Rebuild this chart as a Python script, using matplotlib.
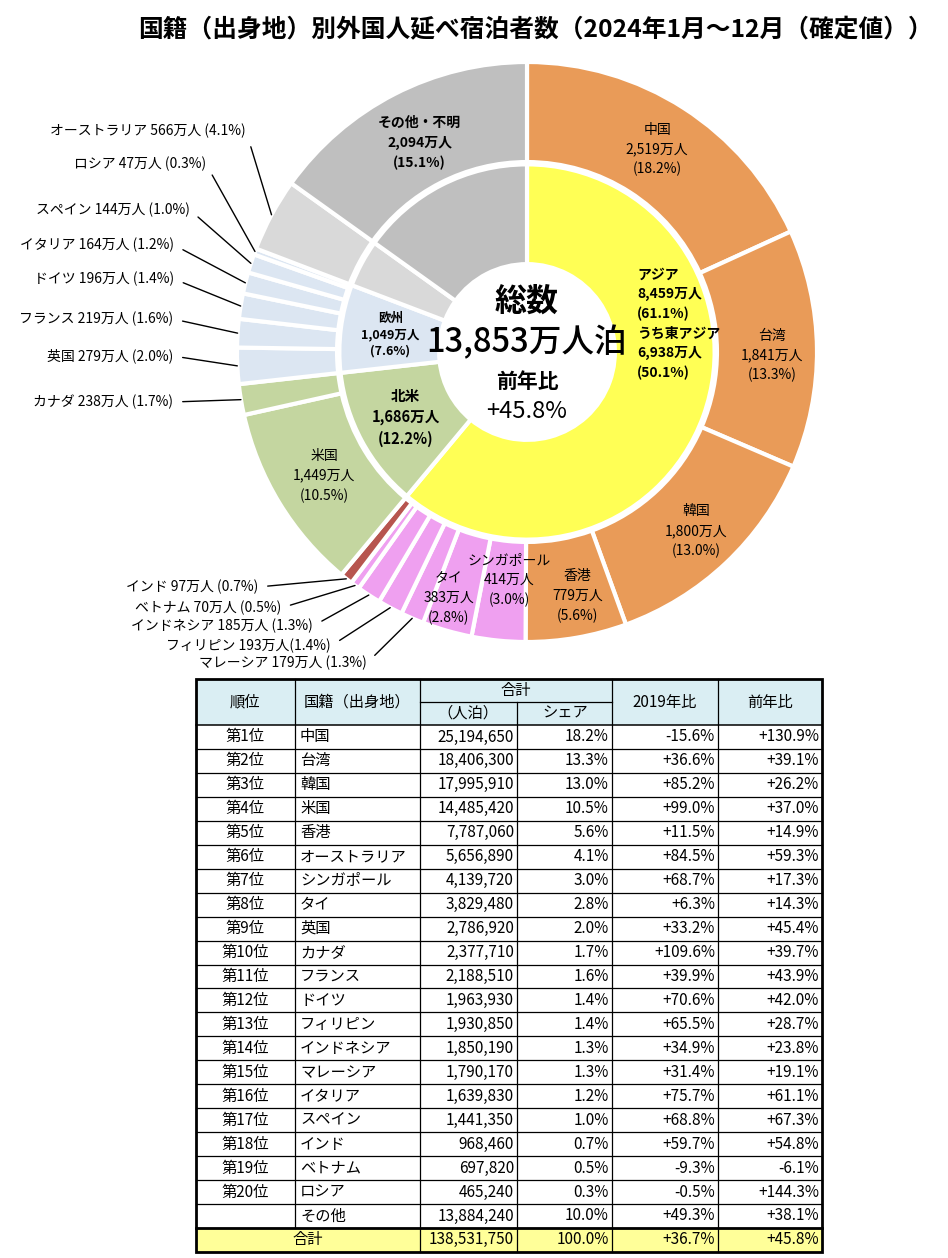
import matplotlib
matplotlib.use("Agg")
import matplotlib.pyplot as plt
import numpy as np

plt.rcParams['font.family'] = ['Noto Sans CJK JP', 'DejaVu Sans']

# outer ring: countries, clockwise from 12 o'clock (万人)
countries = ["中国", "台湾", "韓国", "香港", "シンガポール", "タイ", "マレーシア", "フィリピン",
             "インドネシア", "ベトナム", "インド", "米国", "カナダ", "英国", "フランス", "ドイツ",
             "イタリア", "スペイン", "ロシア", "オーストラリア", "その他・不明"]
country_vals = [2519, 1841, 1800, 779, 414, 383, 179, 193, 185, 70, 97, 1449, 238, 279, 219,
                196, 164, 144, 47, 566, 2094]
country_pct = [18.2, 13.3, 13.0, 5.6, 3.0, 2.8, 1.3, 1.4, 1.3, 0.5, 0.7, 10.5, 1.7, 2.0, 1.6,
               1.4, 1.2, 1.0, 0.3, 4.1, 15.1]
country_grp = ["east", "east", "east", "east", "sea", "sea", "sea", "sea", "sea", "sea", "india",
               "na", "na", "eu", "eu", "eu", "eu", "eu", "eu", "oce", "other"]

# inner ring: regions
regions = ["アジア", "北米", "欧州", "オセアニア", "その他・不明"]
region_vals = [8459, 1686, 1049, 566, 2094]
region_pct = [61.1, 12.2, 7.6, 4.1, 15.1]
region_grp = ["asia", "na", "eu", "oce", "other"]
east_asia_val = 6938
east_asia_pct = 50.1
total_val = 13853
total_yoy = "+45.8%"

# table
tbl_rank = ["第%d位" % i for i in range(1, 21)] + [""]
tbl_names = ["中国", "台湾", "韓国", "米国", "香港", "オーストラリア", "シンガポール", "タイ", "英国",
             "カナダ", "フランス", "ドイツ", "フィリピン", "インドネシア", "マレーシア", "イタリア",
             "スペイン", "インド", "ベトナム", "ロシア", "その他"]
tbl_nights = [25194650, 18406300, 17995910, 14485420, 7787060, 5656890, 4139720, 3829480,
              2786920, 2377710, 2188510, 1963930, 1930850, 1850190, 1790170, 1639830, 1441350,
              968460, 697820, 465240, 13884240]
tbl_share = [18.2, 13.3, 13.0, 10.5, 5.6, 4.1, 3.0, 2.8, 2.0, 1.7, 1.6, 1.4, 1.4, 1.3, 1.3, 1.2,
             1.0, 0.7, 0.5, 0.3, 10.0]
tbl_vs2019 = [-15.6, 36.6, 85.2, 99.0, 11.5, 84.5, 68.7, 6.3, 33.2, 109.6, 39.9, 70.6, 65.5,
              34.9, 31.4, 75.7, 68.8, 59.7, -9.3, -0.5, 49.3]
tbl_yoy = [130.9, 39.1, 26.2, 37.0, 14.9, 59.3, 17.3, 14.3, 45.4, 39.7, 43.9, 42.0, 28.7, 23.8,
           19.1, 61.1, 67.3, 54.8, -6.1, 144.3, 38.1]
total_nights = 138531750
total_share = 100.0
total_vs2019 = 36.7
total_yoy_tbl = 45.8

colors = {"east": "#E99B58", "sea": "#EFA0F0", "india": "#B7554F", "na": "#C4D6A0",
          "eu": "#DCE6F2", "oce": "#D9D9D9", "other": "#BFBFBF", "asia": "#FFFF55"}

W, H = 948, 1258
CX, CY, R = 527, 352, 290


def to_d(x, y):
    return (x - CX) / R, (CY - y) / R


fig = plt.figure(figsize=(W / 100, H / 100), dpi=100)

ax = fig.add_axes([0, 0, 1, 1])
ax.patch.set_visible(False)

wedges, _ = ax.pie(country_vals, radius=1.0, colors=[colors[g] for g in country_grp],
                   counterclock=False, startangle=90,
                   wedgeprops=dict(width=0.345, edgecolor="white", linewidth=3))
iwedges, _ = ax.pie(region_vals, radius=0.647, colors=[colors[g] for g in region_grp],
                    counterclock=False, startangle=90,
                    wedgeprops=dict(width=0.344, edgecolor="white", linewidth=3))
ax.set_aspect("auto")
ax.set_xlim(-CX / R, (W - CX) / R)
ax.set_ylim(-(H - CY) / R, CY / R)
ax.axis("off")


def mid(w, r, da=0.0):
    a = np.deg2rad((w.theta1 + w.theta2) / 2 + da)
    return r * np.cos(a), r * np.sin(a)


# labels inside outer ring: radius factor, angle nudge (deg), bold
inside = {"中国": (0.83, 0, False), "台湾": (0.845, -1.5, False), "韓国": (0.85, 0, False),
          "香港": (0.86, 1.8, False), "シンガポール": (0.79, 1.3, False), "タイ": (0.89, -1.6, False),
          "米国": (0.82, 0, False), "その他・不明": (0.81, 0, True)}
# labels outside with leader lines: right end / centre of text, in pixels
outside = {"オーストラリア": (246, 131), "ロシア": (206, 164), "スペイン": (190, 210),
           "イタリア": (174, 245), "ドイツ": (174, 279), "フランス": (173, 319), "英国": (173, 356),
           "カナダ": (173, 402), "インド": (258, 587), "ベトナム": (281, 608),
           "インドネシア": (313, 626), "フィリピン": (331, 646), "マレーシア": (367, 663)}

for w, name, v, p in zip(wedges, countries, country_vals, country_pct):
    if name in inside:
        r, da, bold = inside[name]
        x, y = mid(w, r, da)
        ax.text(x, y, f"{name}\n{v:,}万人\n({p}%)", ha="center", va="center", fontsize=10,
                fontweight="bold" if bold else "normal", linespacing=1.5)
    elif name in outside:
        sep = "" if name == "フィリピン" else " "
        ax.annotate(f"{name} {v}万人{sep}({p}%)", xy=mid(w, 1.0), xytext=to_d(*outside[name]),
                    ha="right", va="center", fontsize=10,
                    arrowprops=dict(arrowstyle="-", color="black", lw=1.0, shrinkA=5, shrinkB=0,
                                    relpos=(1, 0.5)))

# inner ring labels
for w, name, v, p in zip(iwedges, regions, region_vals, region_pct):
    if name in ("北米", "欧州"):
        x, y = mid(w, 0.475)
        ax.text(x, y, f"{name}\n{v:,}万人\n({p}%)", ha="center", va="center",
                fontsize=10.5 if name == "北米" else 9, fontweight="bold",
                linespacing=1.4 if name == "北米" else 1.35)
    elif name == "アジア":
        x, y = to_d(637, 324)
        ax.text(x, y, f"{name}\n{v:,}万人\n({p}%)\nうち東アジア\n{east_asia_val:,}万人\n({east_asia_pct}%)",
                ha="left", va="center", fontsize=10, fontweight="bold", linespacing=1.48)

# centre
ax.text(*to_d(CX, 302), "総数", ha="center", va="center", fontsize=23, fontweight="bold")
ax.text(*to_d(CX, 343), f"{total_val:,}万人泊", ha="center", va="center", fontsize=23.5,
        fontweight="medium")
ax.text(*to_d(CX, 381), "前年比", ha="center", va="center", fontsize=15, fontweight="bold")
ax.text(*to_d(CX, 411), total_yoy, ha="center", va="center", fontsize=17)

fig.text(535 / W, 1 - 30 / H, "国籍（出身地）別外国人延べ宿泊者数（2024年1月～12月（確定値））",
         ha="center", va="center", fontsize=17.8, fontweight="bold")

# ---- table ----
tb = fig.add_axes([0, 0, 1, 1])
tb.patch.set_visible(False)
tb.set_xlim(0, W)
tb.set_ylim(H, 0)
tb.axis("off")

cx = [196, 295, 420, 517, 612, 718, 822]
top, hmid, hbot = 679, 702, 725
rh = 23.95
nrows = len(tbl_names) + 1
bot = hbot + nrows * rh
tot_top = hbot + (nrows - 1) * rh

tb.add_patch(plt.Rectangle((cx[0], top), cx[-1] - cx[0], hbot - top, color="#DAEEF3", lw=0))
tb.add_patch(plt.Rectangle((cx[0], tot_top), cx[-1] - cx[0], rh, color="#FFFF99", lw=0))

thin = 0.9
for i in range(nrows):
    yy = hbot + i * rh
    tb.plot([cx[0], cx[-1]], [yy, yy], color="black", lw=thin if i > 0 else 1.1)
tb.plot([cx[0], cx[-1]], [tot_top, tot_top], color="black", lw=2)
tb.plot([cx[2], cx[4]], [hmid, hmid], color="black", lw=thin)
tb.plot([cx[1], cx[1]], [top, tot_top], color="black", lw=thin)
for c in (cx[2], cx[4], cx[5]):
    tb.plot([c, c], [top, bot], color="black", lw=thin)
tb.plot([cx[3], cx[3]], [hmid, bot], color="black", lw=thin)
tb.add_patch(plt.Rectangle((cx[0], top), cx[-1] - cx[0], bot - top, fill=False,
                           ec="black", lw=2))

fs = 11
tb.text(245, hmid, "順位", ha="center", va="center", fontsize=fs)
tb.text(357, hmid, "国籍（出身地）", ha="center", va="center", fontsize=fs)
tb.text(516, (top + hmid) / 2, "合計", ha="center", va="center", fontsize=fs)
tb.text(468, (hmid + hbot) / 2, "（人泊）", ha="center", va="center", fontsize=fs)
tb.text(565, (hmid + hbot) / 2, "シェア", ha="center", va="center", fontsize=fs)
tb.text(665, hmid, "2019年比", ha="center", va="center", fontsize=fs)
tb.text(770, hmid, "前年比", ha="center", va="center", fontsize=fs)

for i, (rk, nm, n, s, a, b) in enumerate(zip(tbl_rank, tbl_names, tbl_nights, tbl_share,
                                             tbl_vs2019, tbl_yoy)):
    yy = hbot + (i + 0.5) * rh
    tb.text(245, yy, rk, ha="center", va="center", fontsize=fs)
    tb.text(300, yy, nm, ha="left", va="center", fontsize=fs)
    tb.text(cx[3] - 3, yy, f"{n:,}", ha="right", va="center", fontsize=fs)
    tb.text(cx[4] - 3, yy, f"{s:.1f}%", ha="right", va="center", fontsize=fs)
    tb.text(cx[5] - 3, yy, f"{a:+.1f}%", ha="right", va="center", fontsize=fs)
    tb.text(cx[6] - 3, yy, f"{b:+.1f}%", ha="right", va="center", fontsize=fs)

yy = tot_top + rh / 2
tb.text((cx[0] + cx[2]) / 2, yy, "合計", ha="center", va="center", fontsize=fs)
tb.text(cx[3] - 3, yy, f"{total_nights:,}", ha="right", va="center", fontsize=fs)
tb.text(cx[4] - 3, yy, f"{total_share:.1f}%", ha="right", va="center", fontsize=fs)
tb.text(cx[5] - 3, yy, f"{total_vs2019:+.1f}%", ha="right", va="center", fontsize=fs)
tb.text(cx[6] - 3, yy, f"{total_yoy_tbl:+.1f}%", ha="right", va="center", fontsize=fs)

fig.savefig("out.png", dpi=100)
